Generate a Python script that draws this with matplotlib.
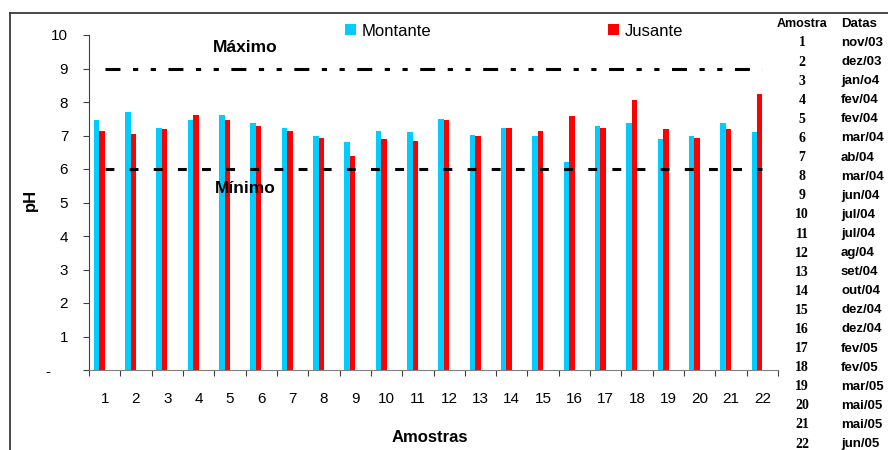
import numpy as np
import matplotlib
matplotlib.use("Agg")
import matplotlib.pyplot as plt
from matplotlib.lines import Line2D

plt.rcParams['font.family'] = ['Liberation Sans', 'DejaVu Sans']

# pH por amostra
amostras = list(range(1, 23))
montante = [7.46, 7.70, 7.22, 7.46, 7.61, 7.37, 7.22, 6.98, 6.81, 7.13, 7.10,
            7.49, 7.01, 7.22, 6.98, 6.21, 7.28, 7.37, 6.90, 6.98, 7.37, 7.10]
jusante = [7.13, 7.05, 7.19, 7.61, 7.46, 7.28, 7.13, 6.93, 6.39, 6.90, 6.84,
           7.46, 6.98, 7.22, 7.13, 7.58, 7.22, 8.06, 7.19, 6.93, 7.19, 8.24]
ph_maximo = 9
ph_minimo = 6
y_ticks = list(range(0, 11))
y_tick_labels = ["-    "] + [str(v) for v in y_ticks[1:]]

datas = ["nov/03", "dez/03", "jan/o4", "fev/04", "fev/04", "mar/04", "ab/04",
         "mar/04", "jun/04", "jul/04", "jul/04", "ag/04", "set/04", "out/04",
         "dez/04", "dez/04", "fev/05", "fev/05", "mar/05", "mai/05", "mai/05",
         "jun/05"]

W, H = 888, 450
fig = plt.figure(figsize=(W / 100, H / 100), dpi=100)
ax = fig.add_axes([89 / W, 80 / H, 689 / W, 335 / H])

x = np.array(amostras)
w = 0.175
b1 = ax.bar(x - 0.2575, montante, w, color="#00CCFF", label="Montante", zorder=2)
b2 = ax.bar(x - 0.0825, jusante, w, color="#FF0000", label="Jusante", zorder=2)

x_linha = [amostras[0], amostras[-1]]
ax.plot(x_linha, [ph_maximo] * 2, color="black", lw=2.2,
        linestyle=(0, (4.9, 4.1, 1.7, 4.1, 1.7, 4.1)), zorder=3)
ax.plot(x_linha, [ph_minimo] * 2, color="black", lw=2.2,
        linestyle=(0, (2.9, 5.0)), zorder=3)

ax.text(5.5, 9.64, "Máximo", ha="center", va="center", fontsize=12.5,
        fontweight="bold", zorder=4)
ax.text(5.5, 5.43, "Mínimo", ha="center", va="center", fontsize=12.5,
        fontweight="bold", zorder=4)

ax.set_xlim(0.5, 22.5)
ax.set_ylim(0, 10)
for s in ("top", "right"):
    ax.spines[s].set_visible(False)
ax.spines["left"].set_color("#404040")
ax.spines["bottom"].set_color("#808080")

ax.set_yticks(y_ticks)
ax.set_yticklabels(y_tick_labels)
ax.tick_params(axis="y", direction="out", length=4, width=0.8, color="#404040",
               labelsize=11, pad=11)

ax.set_xticks(np.arange(0.5, 23.0, 1.0))
ax.set_xticklabels([])
ax.tick_params(axis="x", which="major", direction="out", length=4, width=0.8,
               color="#404040")
ax.set_xticks(x, minor=True)
ax.set_xticklabels([str(a) for a in amostras], minor=True)
ax.tick_params(axis="x", which="minor", length=0, labelsize=11, pad=15.5)

fig.legend(handles=[b1, b2], labels=["Montante", "Jusante"], ncol=2,
           loc="center left", bbox_to_anchor=(345 / W, 1 - 31 / H),
           bbox_transform=fig.transFigure, frameon=False, fontsize=12,
           handlelength=0.66, handleheight=0.66, handletextpad=0.35,
           columnspacing=10.6, borderpad=0, borderaxespad=0)

fig.text(430 / W, 1 - 438 / H, "Amostras", ha="center", va="center",
         fontsize=12, fontweight="bold")
fig.text(30 / W, 1 - 200 / H, "pH", ha="center", va="center", rotation=90,
         fontsize=12, fontweight="bold")

# tabela de datas
fig.text(802 / W, 1 - 24 / H, "Amostra", ha="center", va="center",
         fontsize=9, fontweight="bold")
fig.text(841 / W, 1 - 24 / H, "Datas", ha="left", va="center",
         fontsize=9.5, fontweight="bold")
for i, (a, d) in enumerate(zip(amostras, datas)):
    yy = 1 - (43 + i * 19.1) / H
    fig.text(802 / W, yy, str(a), ha="center", va="center", fontsize=10,
             fontweight="bold", family=["Liberation Serif", "DejaVu Serif"])
    fig.text(841 / W, yy, d, ha="left", va="center", fontsize=9.5,
             fontweight="bold")

# moldura
fig.add_artist(Line2D([10 / W, 10 / W], [0, 1 - 13 / H], transform=fig.transFigure,
                      color="#3a3a3a", lw=1.3))
fig.add_artist(Line2D([10 / W, 1], [1 - 13 / H, 1 - 13 / H], transform=fig.transFigure,
                      color="#3a3a3a", lw=1.3))

fig.savefig("out.png", dpi=100)
